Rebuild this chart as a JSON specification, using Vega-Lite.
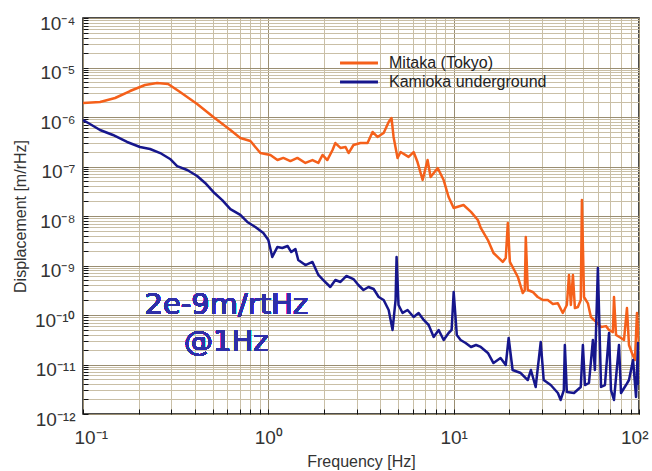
{
  "$schema": "https://vega.github.io/schema/vega-lite/v6.json",
  "autosize": "none",
  "padding": {"left": 83, "top": 18, "right": 13, "bottom": 57},
  "width": 556,
  "height": 396,
  "background": "white",
  "config": {
    "view": {"stroke": "#111", "strokeWidth": 1.5},
    "font": "Liberation Sans"
  },
  "data": {
    "values": [
      {"series": "Mitaka (Tokyo)", "f": 0.1, "d": 1.92e-6},
      {"series": "Mitaka (Tokyo)", "f": 0.1236, "d": 2.01e-6},
      {"series": "Mitaka (Tokyo)", "f": 0.149, "d": 2.42e-6},
      {"series": "Mitaka (Tokyo)", "f": 0.1795, "d": 3.35e-6},
      {"series": "Mitaka (Tokyo)", "f": 0.216, "d": 4.43e-6},
      {"series": "Mitaka (Tokyo)", "f": 0.251, "d": 4.87e-6},
      {"series": "Mitaka (Tokyo)", "f": 0.288, "d": 4.65e-6},
      {"series": "Mitaka (Tokyo)", "f": 0.334, "d": 3.2e-6},
      {"series": "Mitaka (Tokyo)", "f": 0.413, "d": 1.83e-6},
      {"series": "Mitaka (Tokyo)", "f": 0.505, "d": 1.0e-6},
      {"series": "Mitaka (Tokyo)", "f": 0.624, "d": 5.46e-7},
      {"series": "Mitaka (Tokyo)", "f": 0.706, "d": 3.77e-7},
      {"series": "Mitaka (Tokyo)", "f": 0.8, "d": 3.27e-7},
      {"series": "Mitaka (Tokyo)", "f": 0.906, "d": 1.87e-7},
      {"series": "Mitaka (Tokyo)", "f": 1.026, "d": 1.71e-7},
      {"series": "Mitaka (Tokyo)", "f": 1.12, "d": 1.35e-7},
      {"series": "Mitaka (Tokyo)", "f": 1.205, "d": 1.49e-7},
      {"series": "Mitaka (Tokyo)", "f": 1.315, "d": 1.29e-7},
      {"series": "Mitaka (Tokyo)", "f": 1.435, "d": 1.49e-7},
      {"series": "Mitaka (Tokyo)", "f": 1.585, "d": 1.18e-7},
      {"series": "Mitaka (Tokyo)", "f": 1.73, "d": 1.35e-7},
      {"series": "Mitaka (Tokyo)", "f": 1.862, "d": 1.18e-7},
      {"series": "Mitaka (Tokyo)", "f": 1.96, "d": 1.71e-7},
      {"series": "Mitaka (Tokyo)", "f": 2.08, "d": 1.35e-7},
      {"series": "Mitaka (Tokyo)", "f": 2.22, "d": 2.15e-7},
      {"series": "Mitaka (Tokyo)", "f": 2.3, "d": 2.98e-7},
      {"series": "Mitaka (Tokyo)", "f": 2.45, "d": 2.37e-7},
      {"series": "Mitaka (Tokyo)", "f": 2.61, "d": 2.48e-7},
      {"series": "Mitaka (Tokyo)", "f": 2.71, "d": 1.87e-7},
      {"series": "Mitaka (Tokyo)", "f": 2.88, "d": 2.72e-7},
      {"series": "Mitaka (Tokyo)", "f": 3.14, "d": 2.98e-7},
      {"series": "Mitaka (Tokyo)", "f": 3.43, "d": 2.98e-7},
      {"series": "Mitaka (Tokyo)", "f": 3.65, "d": 4.98e-7},
      {"series": "Mitaka (Tokyo)", "f": 3.88, "d": 3.95e-7},
      {"series": "Mitaka (Tokyo)", "f": 4.19, "d": 4.75e-7},
      {"series": "Mitaka (Tokyo)", "f": 4.46, "d": 7.92e-7},
      {"series": "Mitaka (Tokyo)", "f": 4.62, "d": 9.55e-7},
      {"series": "Mitaka (Tokyo)", "f": 4.74, "d": 3.95e-7},
      {"series": "Mitaka (Tokyo)", "f": 4.98, "d": 1.49e-7},
      {"series": "Mitaka (Tokyo)", "f": 5.17, "d": 1.96e-7},
      {"series": "Mitaka (Tokyo)", "f": 5.71, "d": 1.56e-7},
      {"series": "Mitaka (Tokyo)", "f": 6.08, "d": 1.96e-7},
      {"series": "Mitaka (Tokyo)", "f": 6.38, "d": 1.23e-7},
      {"series": "Mitaka (Tokyo)", "f": 6.8, "d": 5.33e-8},
      {"series": "Mitaka (Tokyo)", "f": 7.23, "d": 1.35e-7},
      {"series": "Mitaka (Tokyo)", "f": 7.51, "d": 6.14e-8},
      {"series": "Mitaka (Tokyo)", "f": 8.2, "d": 9.33e-8},
      {"series": "Mitaka (Tokyo)", "f": 8.83, "d": 5.33e-8},
      {"series": "Mitaka (Tokyo)", "f": 9.39, "d": 2.42e-8},
      {"series": "Mitaka (Tokyo)", "f": 10.0, "d": 1.45e-8},
      {"series": "Mitaka (Tokyo)", "f": 11.3, "d": 1.67e-8},
      {"series": "Mitaka (Tokyo)", "f": 12.4, "d": 1.21e-8},
      {"series": "Mitaka (Tokyo)", "f": 13.5, "d": 8.3e-9},
      {"series": "Mitaka (Tokyo)", "f": 14.0, "d": 5.73e-9},
      {"series": "Mitaka (Tokyo)", "f": 15.3, "d": 3.27e-9},
      {"series": "Mitaka (Tokyo)", "f": 16.4, "d": 1.79e-9},
      {"series": "Mitaka (Tokyo)", "f": 18.4, "d": 1.18e-9},
      {"series": "Mitaka (Tokyo)", "f": 19.1, "d": 1.42e-9},
      {"series": "Mitaka (Tokyo)", "f": 19.6, "d": 7.23e-9},
      {"series": "Mitaka (Tokyo)", "f": 20.1, "d": 1.18e-9},
      {"series": "Mitaka (Tokyo)", "f": 20.8, "d": 9.33e-10},
      {"series": "Mitaka (Tokyo)", "f": 22.2, "d": 5.86e-10},
      {"series": "Mitaka (Tokyo)", "f": 23.6, "d": 2.78e-10},
      {"series": "Mitaka (Tokyo)", "f": 24.2, "d": 3.2e-10},
      {"series": "Mitaka (Tokyo)", "f": 24.5, "d": 3.77e-9},
      {"series": "Mitaka (Tokyo)", "f": 25.1, "d": 3.2e-10},
      {"series": "Mitaka (Tokyo)", "f": 26.7, "d": 2.92e-10},
      {"series": "Mitaka (Tokyo)", "f": 28.4, "d": 2.31e-10},
      {"series": "Mitaka (Tokyo)", "f": 30.3, "d": 2.01e-10},
      {"series": "Mitaka (Tokyo)", "f": 32.2, "d": 2.01e-10},
      {"series": "Mitaka (Tokyo)", "f": 34.3, "d": 1.67e-10},
      {"series": "Mitaka (Tokyo)", "f": 36.5, "d": 1.72e-10},
      {"series": "Mitaka (Tokyo)", "f": 38.8, "d": 1.1e-10},
      {"series": "Mitaka (Tokyo)", "f": 40.8, "d": 1.59e-10},
      {"series": "Mitaka (Tokyo)", "f": 41.9, "d": 6.43e-10},
      {"series": "Mitaka (Tokyo)", "f": 42.9, "d": 1.59e-10},
      {"series": "Mitaka (Tokyo)", "f": 44.0, "d": 6.43e-10},
      {"series": "Mitaka (Tokyo)", "f": 45.1, "d": 1.38e-10},
      {"series": "Mitaka (Tokyo)", "f": 46.8, "d": 1.45e-10},
      {"series": "Mitaka (Tokyo)", "f": 48.5, "d": 2.01e-10},
      {"series": "Mitaka (Tokyo)", "f": 49.2, "d": 2.1e-8},
      {"series": "Mitaka (Tokyo)", "f": 50.5, "d": 2.31e-10},
      {"series": "Mitaka (Tokyo)", "f": 53.0, "d": 1.72e-10},
      {"series": "Mitaka (Tokyo)", "f": 55.0, "d": 9.12e-11},
      {"series": "Mitaka (Tokyo)", "f": 58.6, "d": 7.24e-11},
      {"series": "Mitaka (Tokyo)", "f": 62.4, "d": 5.73e-11},
      {"series": "Mitaka (Tokyo)", "f": 66.4, "d": 5.96e-11},
      {"series": "Mitaka (Tokyo)", "f": 68.9, "d": 4.98e-11},
      {"series": "Mitaka (Tokyo)", "f": 72.3, "d": 4.5e-11},
      {"series": "Mitaka (Tokyo)", "f": 73.3, "d": 2.31e-10},
      {"series": "Mitaka (Tokyo)", "f": 75.2, "d": 3.95e-11},
      {"series": "Mitaka (Tokyo)", "f": 80.0, "d": 3.43e-11},
      {"series": "Mitaka (Tokyo)", "f": 83.0, "d": 3.13e-11},
      {"series": "Mitaka (Tokyo)", "f": 86.1, "d": 1.38e-10},
      {"series": "Mitaka (Tokyo)", "f": 88.3, "d": 2.48e-11},
      {"series": "Mitaka (Tokyo)", "f": 91.6, "d": 1.71e-11},
      {"series": "Mitaka (Tokyo)", "f": 95.1, "d": 1.23e-11},
      {"series": "Mitaka (Tokyo)", "f": 97.5, "d": 1.1e-10},
      {"series": "Mitaka (Tokyo)", "f": 100, "d": 2.48e-11},
      {"series": "Kamioka underground", "f": 0.1, "d": 8.69e-7},
      {"series": "Kamioka underground", "f": 0.109, "d": 7.23e-7},
      {"series": "Kamioka underground", "f": 0.1236, "d": 5.46e-7},
      {"series": "Kamioka underground", "f": 0.145, "d": 4.33e-7},
      {"series": "Kamioka underground", "f": 0.173, "d": 3.13e-7},
      {"series": "Kamioka underground", "f": 0.203, "d": 2.48e-7},
      {"series": "Kamioka underground", "f": 0.23, "d": 2.26e-7},
      {"series": "Kamioka underground", "f": 0.261, "d": 1.87e-7},
      {"series": "Kamioka underground", "f": 0.295, "d": 1.42e-7},
      {"series": "Kamioka underground", "f": 0.322, "d": 1.02e-7},
      {"series": "Kamioka underground", "f": 0.365, "d": 8.49e-8},
      {"series": "Kamioka underground", "f": 0.413, "d": 6.43e-8},
      {"series": "Kamioka underground", "f": 0.456, "d": 4.65e-8},
      {"series": "Kamioka underground", "f": 0.505, "d": 3.06e-8},
      {"series": "Kamioka underground", "f": 0.564, "d": 2.1e-8},
      {"series": "Kamioka underground", "f": 0.624, "d": 1.38e-8},
      {"series": "Kamioka underground", "f": 0.706, "d": 1.05e-8},
      {"series": "Kamioka underground", "f": 0.77, "d": 7.57e-9},
      {"series": "Kamioka underground", "f": 0.851, "d": 6.0e-9},
      {"series": "Kamioka underground", "f": 0.94, "d": 4.54e-9},
      {"series": "Kamioka underground", "f": 1.0, "d": 3.27e-9},
      {"series": "Kamioka underground", "f": 1.05, "d": 1.49e-9},
      {"series": "Kamioka underground", "f": 1.12, "d": 2.37e-9},
      {"series": "Kamioka underground", "f": 1.19, "d": 2.26e-9},
      {"series": "Kamioka underground", "f": 1.27, "d": 2.48e-9},
      {"series": "Kamioka underground", "f": 1.33, "d": 1.87e-9},
      {"series": "Kamioka underground", "f": 1.4, "d": 2.15e-9},
      {"series": "Kamioka underground", "f": 1.45, "d": 1.29e-9},
      {"series": "Kamioka underground", "f": 1.585, "d": 1.02e-9},
      {"series": "Kamioka underground", "f": 1.73, "d": 1.18e-9},
      {"series": "Kamioka underground", "f": 1.862, "d": 6.43e-10},
      {"series": "Kamioka underground", "f": 1.98, "d": 5.09e-10},
      {"series": "Kamioka underground", "f": 2.16, "d": 3.68e-10},
      {"series": "Kamioka underground", "f": 2.3, "d": 5.09e-10},
      {"series": "Kamioka underground", "f": 2.45, "d": 4.65e-10},
      {"series": "Kamioka underground", "f": 2.64, "d": 6.14e-10},
      {"series": "Kamioka underground", "f": 2.88, "d": 5.33e-10},
      {"series": "Kamioka underground", "f": 3.06, "d": 4.04e-10},
      {"series": "Kamioka underground", "f": 3.26, "d": 3.2e-10},
      {"series": "Kamioka underground", "f": 3.47, "d": 3.68e-10},
      {"series": "Kamioka underground", "f": 3.7, "d": 3.35e-10},
      {"series": "Kamioka underground", "f": 3.94, "d": 2.31e-10},
      {"series": "Kamioka underground", "f": 4.19, "d": 2.01e-10},
      {"series": "Kamioka underground", "f": 4.46, "d": 1.26e-10},
      {"series": "Kamioka underground", "f": 4.68, "d": 4.98e-11},
      {"series": "Kamioka underground", "f": 4.86, "d": 2.01e-10},
      {"series": "Kamioka underground", "f": 4.92, "d": 1.49e-9},
      {"series": "Kamioka underground", "f": 5.04, "d": 1.59e-10},
      {"series": "Kamioka underground", "f": 5.3, "d": 1.1e-10},
      {"series": "Kamioka underground", "f": 5.64, "d": 1.26e-10},
      {"series": "Kamioka underground", "f": 6.08, "d": 9.12e-11},
      {"series": "Kamioka underground", "f": 6.47, "d": 1.1e-10},
      {"series": "Kamioka underground", "f": 6.89, "d": 7.93e-11},
      {"series": "Kamioka underground", "f": 7.33, "d": 6.28e-11},
      {"series": "Kamioka underground", "f": 7.8, "d": 3.6e-11},
      {"series": "Kamioka underground", "f": 8.3, "d": 4.98e-11},
      {"series": "Kamioka underground", "f": 8.83, "d": 3.13e-11},
      {"series": "Kamioka underground", "f": 9.39, "d": 4.33e-11},
      {"series": "Kamioka underground", "f": 9.75, "d": 4.98e-11},
      {"series": "Kamioka underground", "f": 10.0, "d": 2.92e-10},
      {"series": "Kamioka underground", "f": 10.4, "d": 3.95e-11},
      {"series": "Kamioka underground", "f": 10.9, "d": 3.13e-11},
      {"series": "Kamioka underground", "f": 11.6, "d": 2.72e-11},
      {"series": "Kamioka underground", "f": 12.4, "d": 2.26e-11},
      {"series": "Kamioka underground", "f": 13.2, "d": 2.48e-11},
      {"series": "Kamioka underground", "f": 14.0, "d": 2.26e-11},
      {"series": "Kamioka underground", "f": 15.3, "d": 1.71e-11},
      {"series": "Kamioka underground", "f": 16.4, "d": 1.07e-11},
      {"series": "Kamioka underground", "f": 17.9, "d": 1.35e-11},
      {"series": "Kamioka underground", "f": 19.1, "d": 9.77e-12},
      {"series": "Kamioka underground", "f": 19.8, "d": 3.43e-11},
      {"series": "Kamioka underground", "f": 20.8, "d": 7.74e-12},
      {"series": "Kamioka underground", "f": 23.0, "d": 6.73e-12},
      {"series": "Kamioka underground", "f": 25.1, "d": 4.86e-12},
      {"series": "Kamioka underground", "f": 26.1, "d": 7.74e-12},
      {"series": "Kamioka underground", "f": 27.7, "d": 3.51e-12},
      {"series": "Kamioka underground", "f": 29.5, "d": 2.85e-11},
      {"series": "Kamioka underground", "f": 30.6, "d": 4.86e-12},
      {"series": "Kamioka underground", "f": 33.4, "d": 3.85e-12},
      {"series": "Kamioka underground", "f": 36.5, "d": 2.66e-12},
      {"series": "Kamioka underground", "f": 37.8, "d": 1.92e-12},
      {"series": "Kamioka underground", "f": 39.3, "d": 3.05e-12},
      {"series": "Kamioka underground", "f": 39.8, "d": 2.48e-11},
      {"series": "Kamioka underground", "f": 40.8, "d": 2.78e-12},
      {"series": "Kamioka underground", "f": 44.6, "d": 2.66e-12},
      {"series": "Kamioka underground", "f": 48.5, "d": 3.51e-12},
      {"series": "Kamioka underground", "f": 49.8, "d": 2.48e-11},
      {"series": "Kamioka underground", "f": 51.1, "d": 3.85e-12},
      {"series": "Kamioka underground", "f": 53.7, "d": 4.23e-12},
      {"series": "Kamioka underground", "f": 56.4, "d": 3.13e-11},
      {"series": "Kamioka underground", "f": 57.8, "d": 7.74e-12},
      {"series": "Kamioka underground", "f": 60.0, "d": 8.89e-10},
      {"series": "Kamioka underground", "f": 62.4, "d": 3.51e-12},
      {"series": "Kamioka underground", "f": 65.5, "d": 3.85e-12},
      {"series": "Kamioka underground", "f": 68.9, "d": 4.33e-11},
      {"series": "Kamioka underground", "f": 70.6, "d": 3.05e-12},
      {"series": "Kamioka underground", "f": 73.3, "d": 1.92e-12},
      {"series": "Kamioka underground", "f": 78.0, "d": 2.48e-11},
      {"series": "Kamioka underground", "f": 80.0, "d": 2.66e-12},
      {"series": "Kamioka underground", "f": 85.1, "d": 3.85e-12},
      {"series": "Kamioka underground", "f": 88.3, "d": 4.86e-12},
      {"series": "Kamioka underground", "f": 92.9, "d": 1.23e-11},
      {"series": "Kamioka underground", "f": 96.4, "d": 2.2e-12},
      {"series": "Kamioka underground", "f": 98.8, "d": 2.72e-11},
      {"series": "Kamioka underground", "f": 100, "d": 3.85e-12}
    ]
  },
  "layer": [
    {
      "mark": {"type": "line", "strokeWidth": 2.5, "clip": true, "strokeJoin": "round"},
      "encoding": {
        "x": {
          "field": "f", "type": "quantitative",
          "scale": {"type": "log", "domain": [0.1, 100], "nice": false},
          "axis": {
            "title": "Frequency [Hz]",
            "titleFont": "Liberation Sans", "titleFontSize": 16, "titleFontWeight": "normal", "titleColor": "#333", "titlePadding": 6,
            "values": [0.1,0.2,0.3,0.4,0.5,0.6,0.7,0.8,0.9,1,2,3,4,5,6,7,8,9,10,20,30,40,50,60,70,80,90,100],
            "labelExpr": "abs(log(datum.value)/LN10 - round(log(datum.value)/LN10)) < 0.01 ? '10' + replace(replace(replace(replace(''+round(log(datum.value)/LN10),'-','⁻'),'0','⁰'),'1','¹'),'2','²') : ''",
            "labelFont": "Liberation Sans", "labelFontSize": 19, "labelColor": "#333", "labelPadding": 19,
            "labelFlush": true, "labelFlushOffset": 9, "labelOverlap": false,
            "domain": false,
            "tickSize": -5, "tickColor": "#111", "tickWidth": 1,
            "gridColor": {"condition": {"test": "abs(log(datum.value)/LN10 - round(log(datum.value)/LN10)) < 0.01", "value": "#9a8e72"}, "value": "#c9bfa6"},
            "gridWidth": 1
          }
        },
        "y": {
          "field": "d", "type": "quantitative",
          "scale": {"type": "log", "domain": [1e-12, 1e-4], "nice": false},
          "axis": {
            "title": "Displacement [m/rHz]",
            "titleFont": "Liberation Sans", "titleFontSize": 16, "titleFontWeight": "normal", "titleColor": "#333", "titlePadding": 6,
            "values": [1e-12,2e-12,3e-12,4e-12,5e-12,6e-12,7e-12,8e-12,9e-12,1e-11,2e-11,3e-11,4e-11,5e-11,6e-11,7e-11,8e-11,9e-11,1e-10,2e-10,3e-10,4e-10,5e-10,6e-10,7e-10,8e-10,9e-10,1e-9,2e-9,3e-9,4e-9,5e-9,6e-9,7e-9,8e-9,9e-9,1e-8,2e-8,3e-8,4e-8,5e-8,6e-8,7e-8,8e-8,9e-8,1e-7,2e-7,3e-7,4e-7,5e-7,6e-7,7e-7,8e-7,9e-7,1e-6,2e-6,3e-6,4e-6,5e-6,6e-6,7e-6,8e-6,9e-6,1e-5,2e-5,3e-5,4e-5,5e-5,6e-5,7e-5,8e-5,9e-5,1e-4],
            "labelExpr": "abs(log(datum.value)/LN10 - round(log(datum.value)/LN10)) < 0.01 ? '10' + replace(replace(replace(replace(replace(replace(replace(replace(replace(replace(replace(replace(''+round(log(datum.value)/LN10),'-','⁻'),'0','⁰'),'1','¹'),'1','¹'),'2','²'),'3','³'),'4','⁴'),'5','⁵'),'6','⁶'),'7','⁷'),'8','⁸'),'9','⁹') : ''",
            "labelFont": "Liberation Sans", "labelFontSize": 19, "labelColor": "#333", "labelPadding": 13, "labelOffset": 5,
            "labelFlush": false, "labelOverlap": false,
            "domain": false,
            "tickSize": -5, "tickColor": "#111", "tickWidth": 1,
            "gridColor": {"condition": {"test": "abs(log(datum.value)/LN10 - round(log(datum.value)/LN10)) < 0.01", "value": "#9a8e72"}, "value": "#c9bfa6"},
            "gridWidth": 1
          }
        },
        "color": {
          "field": "series", "type": "nominal",
          "scale": {"domain": ["Mitaka (Tokyo)", "Kamioka underground"], "range": ["#f5601a", "#16168c"]},
          "legend": {
            "title": null, "orient": "none", "legendX": 268, "legendY": 37,
            "symbolType": "M-4,0H4", "symbolSize": 90, "symbolStrokeWidth": 3,
            "labelFont": "Liberation Sans", "labelFontSize": 16, "labelColor": "#222",
            "rowPadding": 3, "labelOffset": 22
          }
        }
      }
    },
    {
      "mark": {"type": "text", "font": "DejaVu Sans", "fontSize": 29, "color": "#2f2fa8", "align": "center", "baseline": "middle", "lineBreak": "\n", "lineHeight": 37},
      "encoding": {
        "x": {"datum": 0.593},
        "y": {"datum": 1.59e-10},
        "text": {"value": "2e-9m/rtHz\n@1Hz"}
      }
    }
  ]
}
